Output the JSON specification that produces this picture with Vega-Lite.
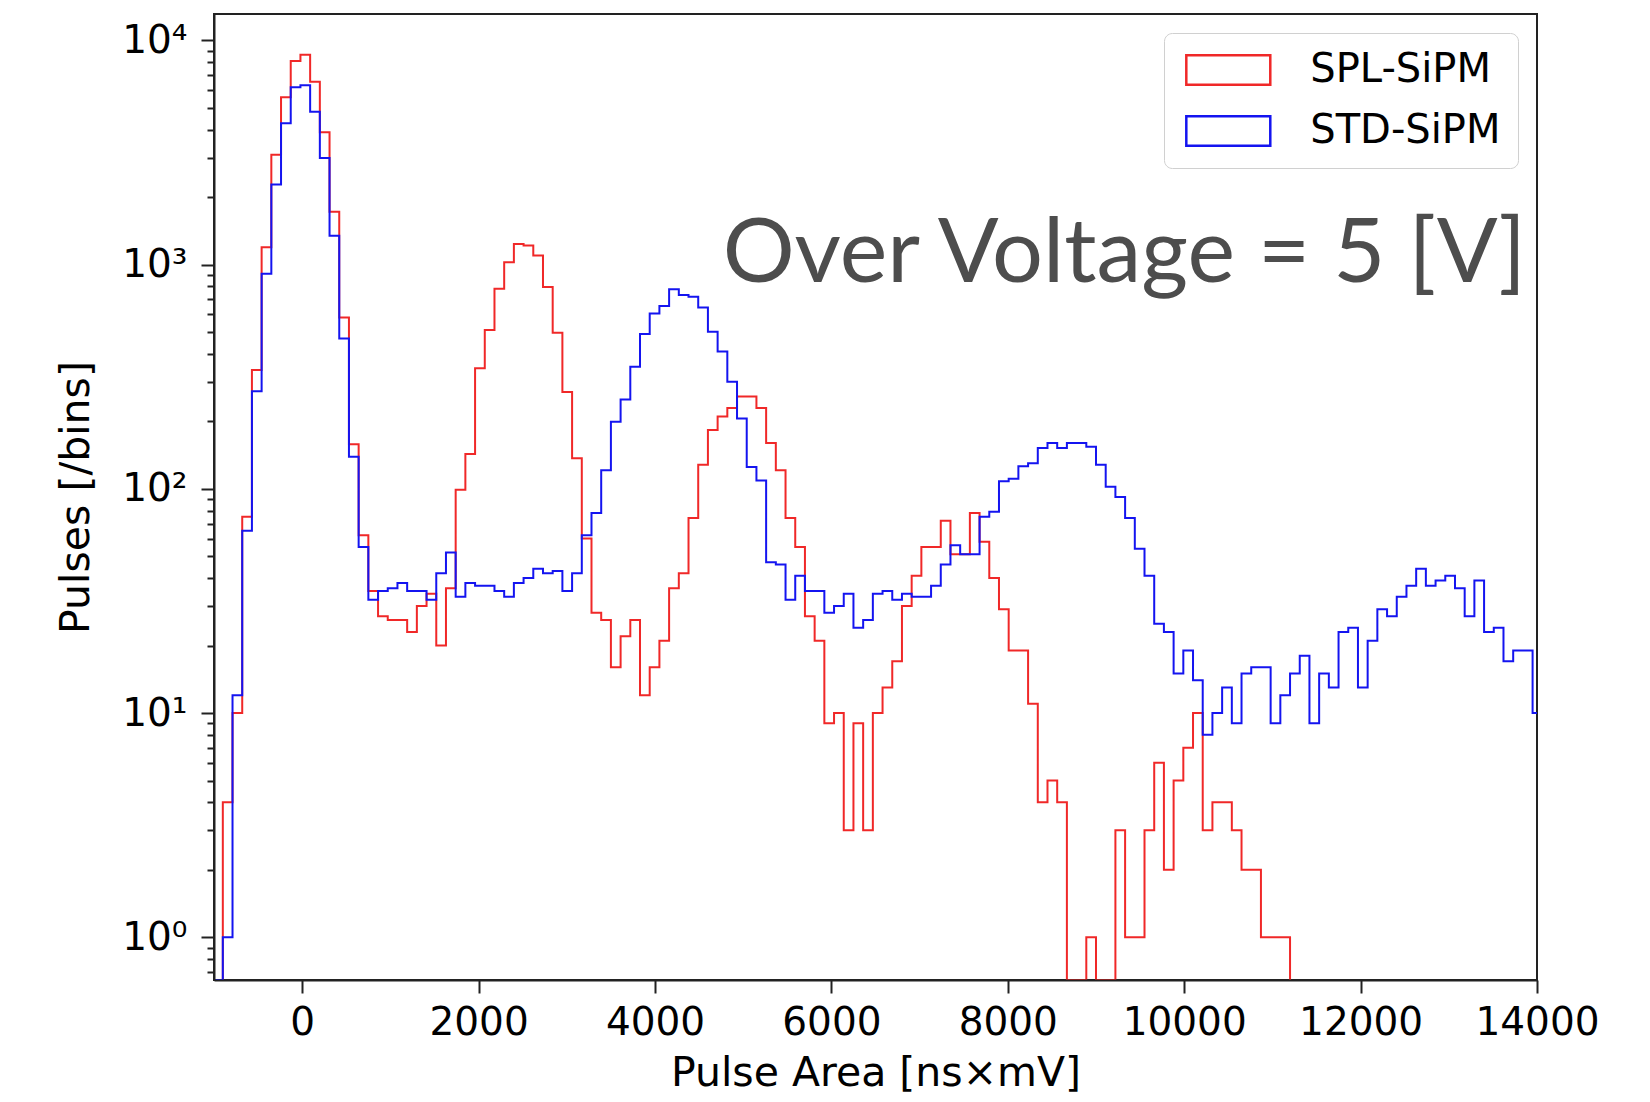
{
  "$schema": "https://vega.github.io/schema/vega-lite/v6.json",
  "width": 1323,
  "height": 966,
  "autosize": {"type": "none"},
  "padding": {"left": 214, "top": 14, "right": 113, "bottom": 122},
  "background": "white",
  "config": {"view": {"stroke": "#222222", "strokeWidth": 2}, "font": "DejaVu Sans"},
  "layer": [
    {
      "data": {"values": [
        {"area": -1010, "SPL-SiPM": 0, "STD-SiPM": 0},
        {"area": -900, "SPL-SiPM": 4, "STD-SiPM": 1},
        {"area": -790, "SPL-SiPM": 10, "STD-SiPM": 12},
        {"area": -680, "SPL-SiPM": 75, "STD-SiPM": 65},
        {"area": -570, "SPL-SiPM": 339, "STD-SiPM": 272},
        {"area": -460, "SPL-SiPM": 1194, "STD-SiPM": 910},
        {"area": -350, "SPL-SiPM": 3090, "STD-SiPM": 2275},
        {"area": -240, "SPL-SiPM": 5570, "STD-SiPM": 4270},
        {"area": -130, "SPL-SiPM": 8090, "STD-SiPM": 6170},
        {"area": -20, "SPL-SiPM": 8630, "STD-SiPM": 6300},
        {"area": 90, "SPL-SiPM": 6540, "STD-SiPM": 4800},
        {"area": 200, "SPL-SiPM": 3890, "STD-SiPM": 2990},
        {"area": 310, "SPL-SiPM": 1720, "STD-SiPM": 1343},
        {"area": 420, "SPL-SiPM": 580, "STD-SiPM": 468},
        {"area": 530, "SPL-SiPM": 158, "STD-SiPM": 139},
        {"area": 640, "SPL-SiPM": 62, "STD-SiPM": 55},
        {"area": 750, "SPL-SiPM": 35, "STD-SiPM": 32},
        {"area": 860, "SPL-SiPM": 27, "STD-SiPM": 35},
        {"area": 970, "SPL-SiPM": 26, "STD-SiPM": 36},
        {"area": 1080, "SPL-SiPM": 26, "STD-SiPM": 38},
        {"area": 1190, "SPL-SiPM": 23, "STD-SiPM": 35},
        {"area": 1300, "SPL-SiPM": 30, "STD-SiPM": 35},
        {"area": 1410, "SPL-SiPM": 34, "STD-SiPM": 32},
        {"area": 1520, "SPL-SiPM": 20, "STD-SiPM": 42},
        {"area": 1630, "SPL-SiPM": 36, "STD-SiPM": 52},
        {"area": 1740, "SPL-SiPM": 99, "STD-SiPM": 33},
        {"area": 1850, "SPL-SiPM": 143, "STD-SiPM": 38},
        {"area": 1960, "SPL-SiPM": 345, "STD-SiPM": 37},
        {"area": 2070, "SPL-SiPM": 510, "STD-SiPM": 37},
        {"area": 2180, "SPL-SiPM": 780, "STD-SiPM": 35},
        {"area": 2290, "SPL-SiPM": 1024, "STD-SiPM": 33},
        {"area": 2400, "SPL-SiPM": 1235, "STD-SiPM": 38},
        {"area": 2510, "SPL-SiPM": 1215, "STD-SiPM": 40},
        {"area": 2620, "SPL-SiPM": 1096, "STD-SiPM": 44},
        {"area": 2730, "SPL-SiPM": 794, "STD-SiPM": 42},
        {"area": 2840, "SPL-SiPM": 497, "STD-SiPM": 43},
        {"area": 2950, "SPL-SiPM": 270, "STD-SiPM": 35},
        {"area": 3060, "SPL-SiPM": 137, "STD-SiPM": 42},
        {"area": 3170, "SPL-SiPM": 60, "STD-SiPM": 62},
        {"area": 3280, "SPL-SiPM": 28, "STD-SiPM": 78},
        {"area": 3390, "SPL-SiPM": 26, "STD-SiPM": 121},
        {"area": 3500, "SPL-SiPM": 16, "STD-SiPM": 199},
        {"area": 3610, "SPL-SiPM": 22, "STD-SiPM": 250},
        {"area": 3720, "SPL-SiPM": 26, "STD-SiPM": 350},
        {"area": 3830, "SPL-SiPM": 12, "STD-SiPM": 490},
        {"area": 3940, "SPL-SiPM": 16, "STD-SiPM": 605},
        {"area": 4050, "SPL-SiPM": 21, "STD-SiPM": 653},
        {"area": 4160, "SPL-SiPM": 36, "STD-SiPM": 775},
        {"area": 4270, "SPL-SiPM": 42, "STD-SiPM": 731},
        {"area": 4380, "SPL-SiPM": 74, "STD-SiPM": 718},
        {"area": 4490, "SPL-SiPM": 128, "STD-SiPM": 644},
        {"area": 4600, "SPL-SiPM": 183, "STD-SiPM": 502},
        {"area": 4710, "SPL-SiPM": 210, "STD-SiPM": 409},
        {"area": 4820, "SPL-SiPM": 229, "STD-SiPM": 300},
        {"area": 4930, "SPL-SiPM": 258, "STD-SiPM": 206},
        {"area": 5040, "SPL-SiPM": 258, "STD-SiPM": 125},
        {"area": 5150, "SPL-SiPM": 229, "STD-SiPM": 109},
        {"area": 5260, "SPL-SiPM": 160, "STD-SiPM": 47},
        {"area": 5370, "SPL-SiPM": 121, "STD-SiPM": 46},
        {"area": 5480, "SPL-SiPM": 74, "STD-SiPM": 32},
        {"area": 5590, "SPL-SiPM": 55, "STD-SiPM": 41},
        {"area": 5700, "SPL-SiPM": 27, "STD-SiPM": 35},
        {"area": 5810, "SPL-SiPM": 21, "STD-SiPM": 35},
        {"area": 5920, "SPL-SiPM": 9, "STD-SiPM": 28},
        {"area": 6030, "SPL-SiPM": 10, "STD-SiPM": 30},
        {"area": 6140, "SPL-SiPM": 3, "STD-SiPM": 34},
        {"area": 6250, "SPL-SiPM": 9, "STD-SiPM": 24},
        {"area": 6360, "SPL-SiPM": 3, "STD-SiPM": 26},
        {"area": 6470, "SPL-SiPM": 10, "STD-SiPM": 34},
        {"area": 6580, "SPL-SiPM": 13, "STD-SiPM": 35},
        {"area": 6690, "SPL-SiPM": 17, "STD-SiPM": 32},
        {"area": 6800, "SPL-SiPM": 30, "STD-SiPM": 34},
        {"area": 6910, "SPL-SiPM": 41, "STD-SiPM": 33},
        {"area": 7020, "SPL-SiPM": 55, "STD-SiPM": 33},
        {"area": 7130, "SPL-SiPM": 55, "STD-SiPM": 37},
        {"area": 7240, "SPL-SiPM": 72, "STD-SiPM": 46},
        {"area": 7350, "SPL-SiPM": 51, "STD-SiPM": 56},
        {"area": 7460, "SPL-SiPM": 51, "STD-SiPM": 51},
        {"area": 7570, "SPL-SiPM": 78, "STD-SiPM": 51},
        {"area": 7680, "SPL-SiPM": 58, "STD-SiPM": 75},
        {"area": 7790, "SPL-SiPM": 40, "STD-SiPM": 79},
        {"area": 7900, "SPL-SiPM": 29, "STD-SiPM": 108},
        {"area": 8010, "SPL-SiPM": 19, "STD-SiPM": 111},
        {"area": 8120, "SPL-SiPM": 19, "STD-SiPM": 126},
        {"area": 8230, "SPL-SiPM": 11, "STD-SiPM": 130},
        {"area": 8340, "SPL-SiPM": 4, "STD-SiPM": 152},
        {"area": 8450, "SPL-SiPM": 5, "STD-SiPM": 160},
        {"area": 8560, "SPL-SiPM": 4, "STD-SiPM": 152},
        {"area": 8670, "SPL-SiPM": 0, "STD-SiPM": 160},
        {"area": 8780, "SPL-SiPM": 0, "STD-SiPM": 160},
        {"area": 8890, "SPL-SiPM": 1, "STD-SiPM": 154},
        {"area": 9000, "SPL-SiPM": 0, "STD-SiPM": 128},
        {"area": 9110, "SPL-SiPM": 0, "STD-SiPM": 102},
        {"area": 9220, "SPL-SiPM": 3, "STD-SiPM": 92},
        {"area": 9330, "SPL-SiPM": 1, "STD-SiPM": 74},
        {"area": 9440, "SPL-SiPM": 1, "STD-SiPM": 54},
        {"area": 9550, "SPL-SiPM": 3, "STD-SiPM": 41},
        {"area": 9660, "SPL-SiPM": 6, "STD-SiPM": 25},
        {"area": 9770, "SPL-SiPM": 2, "STD-SiPM": 23},
        {"area": 9880, "SPL-SiPM": 5, "STD-SiPM": 15},
        {"area": 9990, "SPL-SiPM": 7, "STD-SiPM": 19},
        {"area": 10100, "SPL-SiPM": 10, "STD-SiPM": 14},
        {"area": 10210, "SPL-SiPM": 3, "STD-SiPM": 8},
        {"area": 10320, "SPL-SiPM": 4, "STD-SiPM": 10},
        {"area": 10430, "SPL-SiPM": 4, "STD-SiPM": 13},
        {"area": 10540, "SPL-SiPM": 3, "STD-SiPM": 9},
        {"area": 10650, "SPL-SiPM": 2, "STD-SiPM": 15},
        {"area": 10760, "SPL-SiPM": 2, "STD-SiPM": 16},
        {"area": 10870, "SPL-SiPM": 1, "STD-SiPM": 16},
        {"area": 10980, "SPL-SiPM": 1, "STD-SiPM": 9},
        {"area": 11090, "SPL-SiPM": 1, "STD-SiPM": 12},
        {"area": 11200, "SPL-SiPM": 0, "STD-SiPM": 15},
        {"area": 11310, "STD-SiPM": 18},
        {"area": 11420, "STD-SiPM": 9},
        {"area": 11530, "STD-SiPM": 15},
        {"area": 11640, "STD-SiPM": 13},
        {"area": 11750, "STD-SiPM": 23},
        {"area": 11860, "STD-SiPM": 24},
        {"area": 11970, "STD-SiPM": 13},
        {"area": 12080, "STD-SiPM": 21},
        {"area": 12190, "STD-SiPM": 29},
        {"area": 12300, "STD-SiPM": 27},
        {"area": 12410, "STD-SiPM": 33},
        {"area": 12520, "STD-SiPM": 37},
        {"area": 12630, "STD-SiPM": 44},
        {"area": 12740, "STD-SiPM": 37},
        {"area": 12850, "STD-SiPM": 39},
        {"area": 12960, "STD-SiPM": 41},
        {"area": 13070, "STD-SiPM": 36},
        {"area": 13180, "STD-SiPM": 27},
        {"area": 13290, "STD-SiPM": 39},
        {"area": 13400, "STD-SiPM": 23},
        {"area": 13510, "STD-SiPM": 24},
        {"area": 13620, "STD-SiPM": 17},
        {"area": 13730, "STD-SiPM": 19},
        {"area": 13840, "STD-SiPM": 19},
        {"area": 13950, "STD-SiPM": 10},
        {"area": 14060, "STD-SiPM": 12}
      ]},
      "transform": [
        {"fold": ["SPL-SiPM", "STD-SiPM"], "as": ["detector", "pulses"]},
        {"filter": "isValid(datum.pulses)"}
      ],
      "mark": {"type": "line", "interpolate": "step-after", "strokeWidth": 2, "clip": true},
      "encoding": {
        "x": {
          "field": "area", "type": "quantitative",
          "scale": {"domain": [-1000, 14000], "nice": false, "zero": false},
          "axis": {
            "values": [0, 2000, 4000, 6000, 8000, 10000, 12000, 14000],
            "format": "d",
            "tickSize": 13, "tickWidth": 2, "tickColor": "#222222",
            "labelFontSize": 39, "labelColor": "black", "labelPadding": 10,
            "labelFont": "DejaVu Sans", "labelFlush": false, "labelOverlap": false,
            "domain": true, "domainColor": "#222222", "domainWidth": 2,
            "grid": false, "zindex": 1,
            "title": "Pulse Area [ns×mV]", "titleFont": "DejaVu Sans",
            "titleFontSize": 41, "titleFontWeight": "normal", "titleColor": "black",
            "titleY": 93, "titleBaseline": "middle"
          }
        },
        "y": {
          "field": "pulses", "type": "quantitative",
          "scale": {"type": "log", "domain": [0.645, 13100], "nice": false, "clamp": true},
          "axis": {
            "values": [0.7, 0.8, 0.9, 1, 2, 3, 4, 5, 6, 7, 8, 9, 10, 20, 30, 40, 50, 60, 70, 80, 90, 100, 200, 300, 400, 500, 600, 700, 800, 900, 1000, 2000, 3000, 4000, 5000, 6000, 7000, 8000, 9000, 10000],
            "labelExpr": "datum.value == 1 ? '10⁰' : datum.value == 10 ? '10¹' : datum.value == 100 ? '10²' : datum.value == 1000 ? '10³' : datum.value == 10000 ? '10⁴' : ''",
            "tickSize": {"condition": {"test": "indexof([1, 10, 100, 1000, 10000], datum.value) >= 0", "value": 13}, "value": 7},
            "tickWidth": 2, "tickColor": "#222222",
            "labelFontSize": 39, "labelColor": "black", "labelPadding": 14,
            "labelFont": "DejaVu Sans", "labelOverlap": false, "labelFlush": false,
            "domain": true, "domainColor": "#222222", "domainWidth": 2,
            "grid": false, "zindex": 1,
            "title": "Pulses [/bins]", "titleFont": "DejaVu Sans",
            "titleFontSize": 41, "titleFontWeight": "normal", "titleColor": "black",
            "titleX": -138, "titleY": 483, "titleAngle": 270,
            "titleAlign": "center", "titleBaseline": "middle"
          }
        },
        "color": {
          "field": "detector", "type": "nominal",
          "scale": {"domain": ["SPL-SiPM", "STD-SiPM"], "range": ["#f02828", "#1414f0"]},
          "legend": {
            "title": null, "orient": "top-right", "offset": 19,
            "symbolType": "M-2.857,-1H2.857V1H-2.857Z", "symbolSize": 864,
            "symbolOffset": 27.3,
            "symbolStrokeWidth": 2.5, "symbolFillColor": "transparent",
            "labelFontSize": 40, "labelFont": "DejaVu Sans", "labelColor": "black",
            "labelLimit": 500, "labelOffset": 62, "padding": 17, "rowPadding": 21,
            "strokeColor": "#d0d0d0", "fillColor": "white", "cornerRadius": 8
          }
        }
      }
    },
    {
      "data": {"values": [{"label": "Over Voltage = 5 [V]"}]},
      "mark": {"type": "text", "font": "Lato", "fontSize": 90, "color": "#4d4d4d", "align": "right", "baseline": "alphabetic"},
      "encoding": {
        "x": {"datum": 13875, "type": "quantitative"},
        "y": {"datum": 836, "type": "quantitative"},
        "text": {"field": "label", "type": "nominal"}
      }
    }
  ]
}
